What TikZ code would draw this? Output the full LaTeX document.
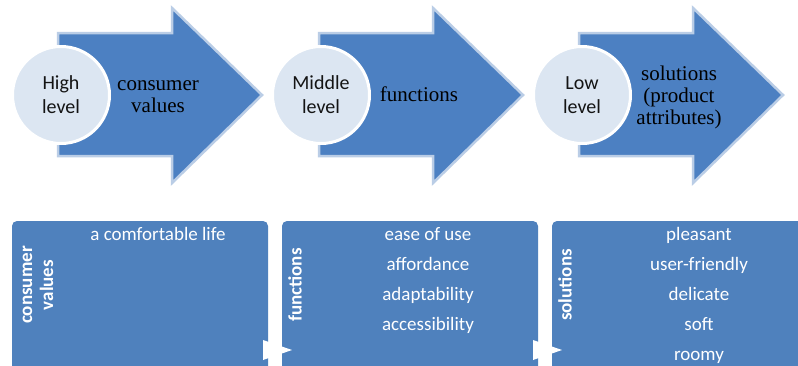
\documentclass[tikz,border=0pt]{standalone}
\usepackage{fontspec}
\setmainfont{Liberation Serif}
\newfontfamily\calib{Carlito}
\definecolor{arrowblue}{RGB}{76,128,194}
\definecolor{arrowedge}{RGB}{186,205,230}
\definecolor{circfill}{RGB}{220,230,242}
\definecolor{boxblue}{RGB}{79,129,189}
\definecolor{darktext}{RGB}{20,20,20}
\tikzset{
  bigarrow/.style={fill=arrowblue, draw=arrowedge, line width=2.5pt, line join=miter},
  levelcirc/.style={circle, fill=circfill, draw=white, line width=3pt, minimum size=97pt, inner sep=0pt,
    font=\calib\fontsize{20}{24}\selectfont, text=darktext, align=center},
  arrowtext/.style={font=\fontsize{21}{22}\selectfont, text=black, align=center, inner sep=0pt},
  lowbox/.style={fill=boxblue, rounded corners=5pt},
  sidelabel/.style={rotate=90, font=\calib\bfseries\fontsize{19}{21}\selectfont, text=white, align=center, inner sep=0pt},
  item/.style={font=\calib\fontsize{19}{22}\selectfont, text=white, inner sep=0pt, text height=13pt, text depth=4pt},
  chev/.style={fill=white}
}
\begin{document}
\begin{tikzpicture}[x=1pt,y=-1pt]
\clip (0,0) rectangle (798,365);
\fill[white] (0,0) rectangle (798,365);
% top arrows
\foreach \o/\n in {0/a1,261/a2,521/a3}{
  \draw[bigarrow] (58+\o,33) -- (172+\o,33) -- (172+\o,8) -- (262+\o,95) -- (172+\o,183) -- (172+\o,156) -- (58+\o,156) -- cycle;
}
\node[levelcirc] (c1) at (61,95) {High\\level};
\node[levelcirc] (c2) at (321,95) {Middle\\level};
\node[levelcirc] (c3) at (582,95) {Low\\level};
\node[arrowtext] (t1) at (158,97) {consumer\\values};
\node[arrowtext] (t2) at (419,94) {functions};
\node[arrowtext] (t3) at (679,97) {solutions\\(product\\attributes)};
% lower boxes
\path[lowbox] (12,221) rectangle (268,400);
\path[lowbox] (282,221) rectangle (538,400);
\path[lowbox] (552,221) rectangle (820,400);
\fill[chev] (263,340) -- (292,350) -- (263,360) -- cycle;
\fill[chev] (533,340) -- (562,350) -- (533,360) -- cycle;
\node[sidelabel] (l1) at (38,285) {consumer\\values};
\node[sidelabel] (l2) at (295,285) {functions};
\node[sidelabel] (l3) at (565,285) {solutions};
\node[item] (i11) at (158,236) {a comfortable life};
\node[item] (i21) at (428,236) {ease of use};
\node[item] (i22) at (428,266) {affordance};
\node[item] (i23) at (428,296) {adaptability};
\node[item] (i24) at (428,326) {accessibility};
\node[item] (i31) at (699,236) {pleasant};
\node[item] (i32) at (699,266) {user-friendly};
\node[item] (i33) at (699,296) {delicate};
\node[item] (i34) at (699,326) {soft};
\node[item] (i35) at (699,356) {roomy};
\end{tikzpicture}
\end{document}
